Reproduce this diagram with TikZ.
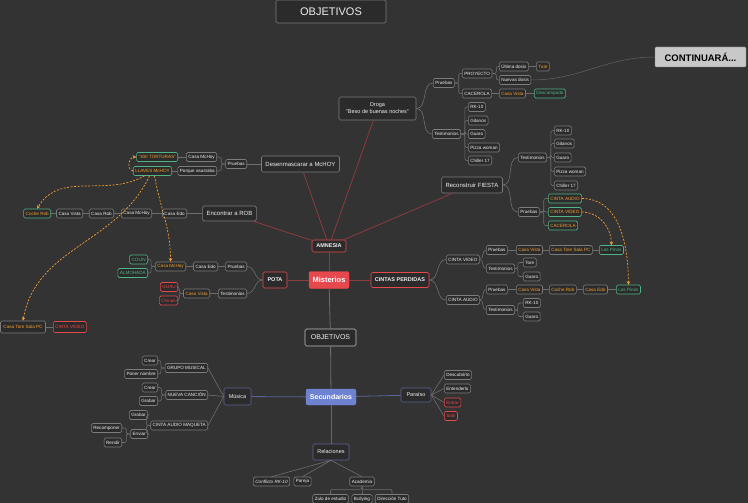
\documentclass[tikz,border=0pt]{standalone}
\usepackage{fontspec}
\setmainfont{Liberation Sans}
\usetikzlibrary{arrows.meta}
\definecolor{bgc}{HTML}{333333}
\definecolor{nfill}{HTML}{2B2B2B}
\definecolor{nbord}{HTML}{7C7C7C}
\definecolor{ntext}{HTML}{EEEEEE}
\definecolor{orng}{HTML}{F2A033}
\definecolor{grn}{HTML}{4FB585}
\definecolor{redc}{HTML}{E5484D}
\definecolor{redl}{HTML}{8C3B40}
\definecolor{bluef}{HTML}{6F82D2}
\definecolor{bluel}{HTML}{5E6494}
\definecolor{lgray}{HTML}{6E6E6E}
\definecolor{contf}{HTML}{C8C8C8}
\tikzset{
 nd/.style={draw=nbord, fill=nfill, rounded corners=1.5pt, text=ntext, inner xsep=2pt, inner ysep=0pt, minimum height=9pt, font=\fontsize{4.6}{5}\selectfont, line width=0.6pt},
 ot/.style={nd, text=orng},
 og/.style={nd, text=orng, draw=grn},
 gg/.style={nd, text=grn, draw=grn},
 rr/.style={nd, text=redc, draw=redc},
 md/.style={nd, font=\fontsize{6}{7}\selectfont, minimum height=15pt, inner xsep=4pt},
 lone/.style={nd, draw=redc, font=\fontsize{5.5}{6}\selectfont\bfseries, minimum height=13pt, inner xsep=3pt},
 bnode/.style={nd, draw=bluel, font=\fontsize{5.5}{6}\selectfont, minimum height=15pt, inner xsep=4pt},
 cn/.style={draw=lgray, line width=0.6pt},
 el/.style={cn, rounded corners=2pt},
 rl/.style={draw=redl, line width=0.8pt},
 bln/.style={draw=bluel, line width=0.8pt},
 dep/.style={draw=orng, line width=0.7pt, dash pattern=on 2pt off 1.5pt, -{Stealth[length=3.5pt,width=3.5pt]}},
}
\begin{document}
\begin{tikzpicture}[x=1pt,y=-1pt]
\fill[bgc] (0,0) rectangle (748,503);
\useasboundingbox (0,0) rectangle (748,503);

% ---------- title & continuara
\node[nd, font=\fontsize{11}{12}\selectfont, minimum width=110pt, minimum height=23pt] (objt) at (331,11.5) {OBJETIVOS};
\node[draw=nbord, fill=contf, text=black, rounded corners=1pt, font=\fontsize{9.5}{10}\selectfont\bfseries, minimum width=91pt, minimum height=20pt] (cont) at (700.5,57) {CONTINUARÁ...};

% ---------- central
\node[fill=redc, draw=redc, rounded corners=2pt, text=white, font=\fontsize{7.5}{8}\selectfont\bfseries, minimum width=40pt, minimum height=17pt] (mis) at (329,280) {Misterios};
\node[lone, minimum width=34pt, minimum height=12pt] (amn) at (329,246) {AMNESIA};
\node[lone, minimum width=24pt, minimum height=16pt] (pota) at (275,280) {POTA};
\node[lone, minimum width=58pt, minimum height=15pt] (cintas) at (400,280) {CINTAS PERDIDAS};
\node[nd, draw=white!75!black, font=\fontsize{7}{8}\selectfont, minimum width=51pt, minimum height=17pt] (obj2) at (330.5,337.5) {OBJETIVOS};
\node[fill=bluef, draw=bluef, rounded corners=2pt, text=white, font=\fontsize{7}{8}\selectfont\bfseries, minimum width=50pt, minimum height=16pt] (sec) at (331,397) {Secundarios};

% ---------- Droga
\node[md, align=center, minimum width=77pt, minimum height=23pt, font=\fontsize{5.5}{7}\selectfont] (droga) at (377.5,108.5) {Droga\\"Beso de buenas noches"};
\node[nd, anchor=west] (pr1) at (433,83) {Pruebas};
\node[nd, anchor=west] (proy) at (462,73.5) {PROYECTO};
\node[nd, anchor=west] (cac1) at (462,93.5) {CACEROLA};
\node[nd, anchor=west] (ult) at (499,66.5) {Última dosis};
\node[ot, anchor=west] (tute) at (536,66.5) {Tute};
\node[nd, anchor=west] (nuev) at (499,80) {Nuevas dosis};
\node[ot, anchor=west] (cv1) at (499,93.5) {Casa Vista};
\node[gg, anchor=west] (desc) at (534,93.5) {Descampado};
\node[nd, anchor=west] (te1) at (432,134) {Testimonios};
\node[nd, anchor=west] (rk1) at (468,107) {RK-10};
\node[nd, anchor=west] (gi1) at (468,120.5) {Gitanos};
\node[nd, anchor=west] (gu1) at (468,134) {Guaro};
\node[nd, anchor=west] (pz1) at (468,147.5) {Pizza woman};
\node[nd, anchor=west] (ch1) at (468,160.5) {Chiller 17};

% ---------- Reconstruir FIESTA
\node[md, minimum width=60pt, minimum height=16pt] (fiesta) at (472,185) {Reconstruir FIESTA};
\node[nd, anchor=west] (te2) at (518,157.5) {Testimonios};
\node[nd, anchor=west] (rk2) at (554,130.5) {RK-10};
\node[nd, anchor=west] (gi2) at (554,143.5) {Gitanos};
\node[nd, anchor=west] (gu2) at (554,157.5) {Guaro};
\node[nd, anchor=west] (pz2) at (554,171.5) {Pizza woman};
\node[nd, anchor=west] (ch2) at (554,185.5) {Chiller 17};
\node[nd, anchor=west] (pr2) at (518,212) {Pruebas};
\node[og, anchor=west] (ca2) at (548,198.5) {CINTA AUDIO};
\node[og, anchor=west] (cvid2) at (548,212) {CINTA VIDEO};
\node[og, anchor=west] (cac2) at (548,225.5) {CACEROLA};

% ---------- CINTAS PERDIDAS
\node[nd, anchor=west] (cvid) at (446,259.5) {CINTA VIDEO};
\node[nd, anchor=west] (pr3) at (486,250) {Pruebas};
\node[ot, anchor=west] (cv3) at (516,250) {Casa Vista};
\node[ot, anchor=west] (ctore) at (549,250) {Casa Tore Sala PC};
\node[gg, anchor=west] (pin1) at (599,250) {Los Pinos};
\node[nd, anchor=west] (te3) at (486,268.5) {Testimonios};
\node[nd, anchor=west] (tore) at (523,262.5) {Tore};
\node[nd, anchor=west] (gu3) at (523,276.5) {Guaro};
\node[nd, anchor=west] (caud) at (446,300) {CINTA AUDIO};
\node[nd, anchor=west] (pr4) at (486,289.5) {Pruebas};
\node[ot, anchor=west] (cv4) at (516,289.5) {Casa Vista};
\node[ot, anchor=west] (crob) at (549,289.5) {Coche Rob};
\node[ot, anchor=west] (cedo4) at (583,289.5) {Casa Edo};
\node[gg, anchor=west] (pin2) at (616,289.5) {Los Pinos};
\node[nd, anchor=west] (te4) at (486,310) {Testimonios};
\node[nd, anchor=west] (rk4) at (523,303) {RK-10};
\node[nd, anchor=west] (gu4) at (523,316.5) {Guaro};

% ---------- POTA
\node[nd, anchor=east] (pr5) at (247,266.5) {Pruebas};
\node[nd, anchor=east] (cedo5) at (218,266.5) {Casa Edo};
\node[ot, anchor=east] (cmh5) at (186,266.5) {Casa McHoy};
\node[gg, anchor=east] (colin) at (148,259.5) {COLÍN};
\node[gg, anchor=east] (almo) at (148,273) {ALMOHADA};
\node[nd, anchor=east] (te5) at (247,293.5) {Testimonios};
\node[ot, anchor=east] (cv5) at (210,293.5) {Casa Vista};
\node[rr, anchor=east] (guau) at (178,287) {GUAU};
\node[rr, anchor=east] (chin) at (178,300.5) {Chinas};

% ---------- Desenmascarar
\node[md, minimum width=75pt, minimum height=16pt] (desen) at (300.5,164) {Desenmascarar a McHOY};
\node[nd, anchor=east] (pr6) at (247,164) {Pruebas};
\node[nd, anchor=east] (cmh6) at (217,157) {Casa McHoy};
\node[nd, anchor=east] (porq) at (217,171) {Porque asustaba};
\node[og, anchor=east] (t300) at (178,157) {"300 TORTURAS"};
\node[og, anchor=east] (llav) at (172,171) {LLAVES McHOY};

% ---------- Encontrar a ROB
\node[md, minimum width=53pt, minimum height=15pt] (rob) at (229.5,213.5) {Encontrar a ROB};
\node[nd, anchor=east] (cedo7) at (187,213.5) {Casa Edo};
\node[nd, anchor=east] (cmh7) at (152,213.5) {Casa McHoy};
\node[nd, anchor=east] (crob7) at (114,213.5) {Casa Rob};
\node[nd, anchor=east] (cv7) at (83,213.5) {Casa Vista};
\node[og, anchor=east] (coche) at (51,213.5) {Coche Rob};

% ---------- bottom-left
\node[ot, minimum height=12pt, minimum width=45pt] (ctore8) at (23,327) {Casa Tore Sala PC};
\node[rr, anchor=west, minimum height=11pt] (cvid8) at (53,327) {CINTA VIDEO};

% ---------- Musica
\node[bnode, minimum width=27pt, minimum height=17pt] (mus) at (237.5,396.5) {Música};
\node[nd, anchor=east] (gm) at (208,368) {GRUPO MUSICAL};
\node[nd, anchor=east] (cr1) at (158,360.5) {Crear};
\node[nd, anchor=east] (pn) at (158,374) {Poner nombre};
\node[nd, anchor=east] (nc) at (208,395) {NUEVA CANCIÓN};
\node[nd, anchor=east] (cr2) at (158,387.5) {Crear};
\node[nd, anchor=east] (gr2) at (158,401) {Grabar};
\node[nd, anchor=east] (cam) at (208,425.5) {CINTA AUDIO MAQUETA};
\node[nd, anchor=east] (gr3) at (148,415) {Grabar};
\node[nd, anchor=east] (env) at (148,434) {Enviar};
\node[nd, anchor=east] (rec) at (122,428) {Recomponer};
\node[nd, anchor=east] (ren) at (122,442.5) {Rendir};

% ---------- Paraiso
\node[bnode, minimum width=30pt, minimum height=14pt] (para) at (416,395) {Paraíso};
\node[nd, anchor=west] (des) at (444,375) {Descubrirlo};
\node[nd, anchor=west] (ent) at (444,388.5) {Entenderlo};
\node[rr, anchor=west] (entr) at (444,402.5) {Entrar};
\node[rr, anchor=west] (sal) at (444,416) {Salir};

% ---------- Relaciones
\node[bnode, minimum width=36pt, minimum height=16pt] (rel) at (331,452) {Relaciones};
\node[nd, font=\fontsize{4.6}{5}\selectfont\itshape] (conf) at (271.5,481.5) {Conflicto RK-10};
\node[nd] (par) at (302.5,481.5) {Pareja};
\node[nd] (acad) at (362,481.5) {Academia};
\node[nd] (zulo) at (330.5,499) {Zulo de estudio};
\node[nd] (bull) at (362,499) {Bullying};
\node[nd] (dir) at (392,499) {Dirección Tuto};

% ================= connectors
\draw[rl] (mis) -- (amn);
\draw[rl] (mis) -- (pota);
\draw[rl] (mis) -- (cintas);
\draw[rl] (amn) -- (desen);
\draw[rl] (amn) -- (droga);
\draw[rl] (amn) -- (fiesta);
\draw[rl] (amn) -- (rob);
\draw[cn, line width=0.8pt] (mis) -- (obj2);
\draw[cn, line width=0.8pt] (obj2) -- (sec);
\draw[bln] (sec) -- (mus);
\draw[bln] (sec) -- (para);
\draw[bln] (sec) -- (rel);

% Droga
\foreach \c in {pr1,te1} \draw[cn] (droga.east) to[out=0,in=180] (\c.west);
\foreach \c in {proy,cac1} \draw[el] (pr1.east) -- ++(4,0) |- (\c.west);
\foreach \c in {ult,nuev} \draw[el] (proy.east) -- ++(4,0) |- (\c.west);
\draw[cn] (ult) -- (tute);
\draw[cn] (cac1) -- (cv1);
\draw[cn] (cv1) -- (desc);
\foreach \c in {rk1,gi1,gu1,pz1,ch1} \draw[el] (te1.east) -- ++(4,0) |- (\c.west);
\draw[cn, line width=0.5pt, draw=lgray!80!bgc] (nuev.east) to[out=0,in=180] (cont.west);

% Fiesta
\foreach \c in {te2,pr2} \draw[cn] (fiesta.east) to[out=0,in=180] (\c.west);
\foreach \c in {rk2,gi2,gu2,pz2,ch2} \draw[el] (te2.east) -- ++(4,0) |- (\c.west);
\foreach \c in {ca2,cvid2,cac2} \draw[el] (pr2.east) -- ++(4,0) |- (\c.west);

% Cintas perdidas
\foreach \c in {cvid,caud} \draw[cn] (cintas.east) to[out=0,in=180] (\c.west);
\foreach \c in {pr3,te3} \draw[cn] (cvid.east) to[out=0,in=180] (\c.west);
\draw[cn] (pr3) -- (cv3);
\draw[cn] (cv3) -- (ctore);
\draw[cn] (ctore) -- (pin1);
\foreach \c in {tore,gu3} \draw[el] (te3.east) -- ++(3,0) |- (\c.west);
\foreach \c in {pr4,te4} \draw[cn] (caud.east) to[out=0,in=180] (\c.west);
\draw[cn] (pr4) -- (cv4);
\draw[cn] (cv4) -- (crob);
\draw[cn] (crob) -- (cedo4);
\draw[cn] (cedo4) -- (pin2);
\foreach \c in {rk4,gu4} \draw[el] (te4.east) -- ++(3,0) |- (\c.west);

% Pota
\foreach \c in {pr5,te5} \draw[cn] (pota.west) to[out=180,in=0] (\c.east);
\draw[cn] (pr5) -- (cedo5);
\draw[cn] (cedo5) -- (cmh5);
\foreach \c in {colin,almo} \draw[el] (cmh5.west) -- ++(-4,0) |- (\c.east);
\draw[cn] (te5) -- (cv5);
\foreach \c in {guau,chin} \draw[el] (cv5.west) -- ++(-4,0) |- (\c.east);

% Desenmascarar
\draw[cn] (desen) -- (pr6);
\foreach \c in {cmh6,porq} \draw[el] (pr6.west) -- ++(-4,0) |- (\c.east);
\draw[cn] (cmh6) -- (t300);
\draw[cn] (porq) -- (llav);

% Rob
\draw[cn] (rob) -- (cedo7);
\draw[cn] (cedo7) -- (cmh7);
\draw[cn] (cmh7) -- (crob7);
\draw[cn] (crob7) -- (cv7);
\draw[cn] (cv7) -- (coche);

% bottom-left
\draw[cn] (ctore8) -- (cvid8);

% Musica
\foreach \c in {gm,nc,cam} \draw[cn] (mus.west) -- (\c.east);
\foreach \c in {cr1,pn} \draw[el] (gm.west) -- ++(-4,0) |- (\c.east);
\foreach \c in {cr2,gr2} \draw[el] (nc.west) -- ++(-4,0) |- (\c.east);
\foreach \c in {gr3,env} \draw[el] (cam.west) -- ++(-4,0) |- (\c.east);
\foreach \c in {rec,ren} \draw[el] (env.west) -- ++(-4,0) |- (\c.east);

% Paraiso
\foreach \c in {des,ent,entr,sal} \draw[cn] (para.east) -- (\c.west);

% Relaciones
\foreach \c in {conf,par,acad} \draw[cn] (rel.south) -- (\c.north);
\foreach \c in {zulo,bull,dir} \draw[el] (acad.south) -- ++(0,3) -| (\c.north);

% dependencies
\draw[dep] (llav.west) to[out=165,in=180,looseness=1.3] (t300.west);
\draw[dep] ([xshift=-8pt]llav.south) to[out=-150,in=60] (coche.north);
\draw[dep] ([xshift=2pt]llav.south) to[out=-80,in=90] (cmh5.north);
\draw[dep] ([xshift=-3pt]llav.south) to[out=-115,in=80] (ctore8.north);
\draw[dep] (ca2.east) to[out=0,in=90] (pin2.north);
\draw[dep] (cvid2.east) to[out=0,in=90] (pin1.north);
\end{tikzpicture}
\end{document}
